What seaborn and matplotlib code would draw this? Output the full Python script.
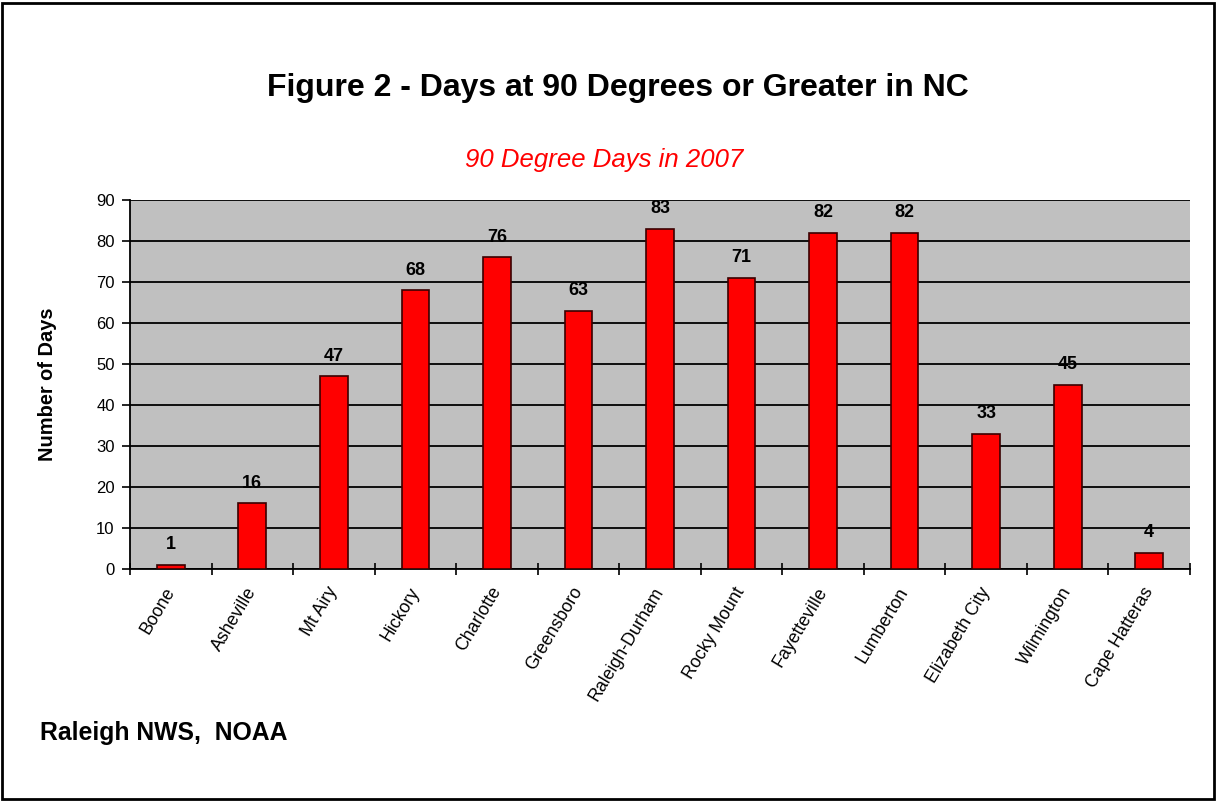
import numpy as np
import pandas as pd
import matplotlib
matplotlib.use('Agg')
import matplotlib.pyplot as plt
import seaborn as sns

# Data
cities = ['Boone', 'Asheville', 'Mt Airy', 'Hickory', 'Charlotte', 'Greensboro',
          'Raleigh-Durham', 'Rocky Mount', 'Fayetteville', 'Lumberton',
          'Elizabeth City', 'Wilmington', 'Cape Hatteras']
days = [1, 16, 47, 68, 76, 63, 83, 71, 82, 82, 33, 45, 4]
y_ticks = [0, 10, 20, 30, 40, 50, 60, 70, 80, 90]

df = pd.DataFrame({'City': cities, 'Days': days})

sns.set_style('white')
plt.rcParams['font.family'] = ['Liberation Sans', 'DejaVu Sans']
plt.rcParams['text.color'] = 'black'
plt.rcParams['axes.labelcolor'] = 'black'

fig = plt.figure(figsize=(12.17, 8.01), dpi=100)
ax = fig.add_axes([130 / 1217, 1 - 569 / 801, 1060 / 1217, 369 / 801])
ax.set_facecolor('#c0c0c0')

sns.barplot(data=df, x='City', y='Days', color='#ff0000', saturation=1,
            width=0.34, edgecolor='#3a0000', linewidth=1.2, ax=ax, zorder=3)

ax.set_ylim(0, 90)
ax.set_xlim(-0.5, len(cities) - 0.5)
ax.set_yticks(y_ticks)
ax.yaxis.grid(True, color='black', linewidth=1.3, zorder=1)
ax.set_axisbelow(True)

for s in ['top', 'right']:
    ax.spines[s].set_visible(False)
ax.spines['left'].set_color('black')
ax.spines['bottom'].set_color('black')
ax.spines['left'].set_linewidth(1.3)
ax.spines['bottom'].set_linewidth(1.3)

ax.tick_params(axis='y', which='major', direction='out', length=6, width=1.2,
               labelsize=12, colors='black', left=True, pad=5)
ax.set_xticks(np.arange(len(cities)))
ax.set_xticks(np.arange(-0.5, len(cities)), minor=True)
ax.tick_params(axis='x', which='major', length=0, pad=14, colors='black')
ax.tick_params(axis='x', which='minor', direction='inout', length=8, width=1.2,
               bottom=True, colors='black')
ax.set_xticklabels(cities, rotation=59, ha='right', va='center', rotation_mode='anchor',
                   fontsize=12.8)

for i, v in enumerate(days):
    ax.text(i, v + 2.8, str(v), ha='center', va='bottom', fontsize=13,
            fontweight='bold', color='black')

ax.set_xlabel('')
ax.set_ylabel('Number of Days', fontsize=14.4, fontweight='bold', labelpad=28)

fig.text(618 / 1217, 1 - 88 / 801, 'Figure 2 - Days at 90 Degrees or Greater in NC',
         ha='center', va='center', fontsize=23, fontweight='bold')
fig.text(604 / 1217, 1 - 160 / 801, '90 Degree Days in 2007', ha='center', va='center',
         fontsize=18.5, fontstyle='italic', color='#ff0000')
fig.text(40 / 1217, 1 - 733 / 801, 'Raleigh NWS,  NOAA', ha='left', va='center',
         fontsize=17.8, fontweight='bold')

# outer border
fig.patches.append(plt.Rectangle((2 / 1217, 2 / 801), 1 - 5 / 1217, 1 - 5 / 801,
                                 transform=fig.transFigure, fill=False,
                                 edgecolor='black', linewidth=2))

fig.savefig('out.png', dpi=100)
